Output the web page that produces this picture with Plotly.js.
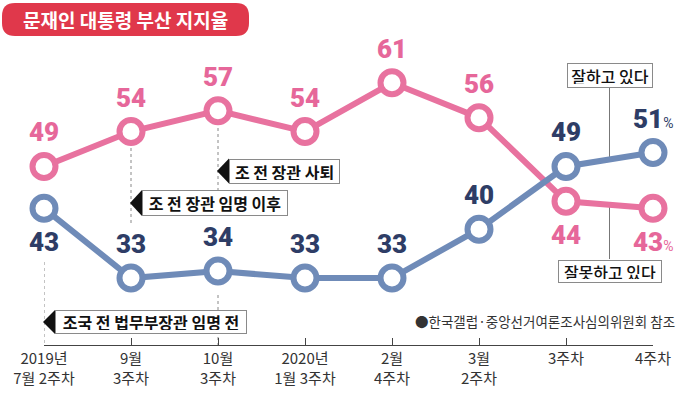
<!DOCTYPE html>
<html><head><meta charset="utf-8">
<script src="https://cdn.plot.ly/plotly-3.0.1.min.js"></script>
<style>html,body{margin:0;padding:0;background:#fff;}#chart{width:680px;height:394px;}</style>
</head><body><div id="chart"></div>
<script>
// ---- data ----
const periods = ['2019년<br>7월 2주차','9월<br>3주차','10월<br>3주차','2020년<br>1월 3주차','2월<br>4주차','3월<br>2주차','3주차','4주차'];
const approve = [43, 33, 34, 33, 33, 40, 49, 51];
const disapprove = [49, 54, 57, 54, 61, 56, 44, 43];
const approveName = '잘하고 있다';
const disapproveName = '잘못하고 있다';
const titleText = '문재인 대통령 부산 지지율';
const sourceText = '●한국갤럽·중앙선거여론조사심의위원회 참조';
const eventIndex = [2, 1, 0];
const eventText = ['조 전 장관 사퇴', '조 전 장관 임명 이후', '조국 전 법무부장관 임명 전'];

// ---- styling / layout constants ----
const PINK = '#e8729f', BLUE = '#6f8bb8', NAVY = '#2e3d66', PINKTXT = '#e6679a', RED = '#e0384b';
const FONT = "'Noto Sans CJK KR', 'Noto Sans', sans-serif";
const NUMFONT = "Roboto, 'DejaVu Sans', sans-serif";
const W = 680, H = 394, L = 44, R = 27, T = 20, B = 49;
const PW = W - L - R, PH = H - T - B;
const YR = [23.4, 70];
const px2x = px => (px - L) / PW;
const py2y = py => (H - B - py) / PH;
const idx2px = i => L + PW * i / (periods.length - 1);
const py2val = py => YR[0] + (H - B - py) / PH * (YR[1] - YR[0]);

// label side: -1 above, +1 below
const approveSide = [1, -1, -1, -1, -1, -1, -1, -1];
const disapproveSide = [-1, -1, -1, -1, -1, -1, 1, 1];
// event boxes [width, centerY, height]
const eventBox = [[111, 171, 25], [146, 203, 26], [192, 322, 24]];
// dotted guides [index, topPx, bottomPx]
const guides = [[0, 262, 345], [1, 148, 223], [2, 128, 190], [2, 295, 345]];

const xs = periods.map((_, i) => i);

const traces = [
  {x: xs, y: disapprove, type: 'scatter', mode: 'lines+markers', name: disapproveName,
   line: {color: PINK, width: 6}, cliponaxis: false,
   marker: {size: 23, color: '#fff', line: {color: PINK, width: 6}}},
  {x: xs, y: approve, type: 'scatter', mode: 'lines+markers', name: approveName,
   line: {color: BLUE, width: 6}, cliponaxis: false,
   marker: {size: 23, color: '#fff', line: {color: BLUE, width: 6}}}
];

const annotations = [];
const shapes = [];
const pct = '<span style="font-size:14px;font-weight:400">%</span>';
function valueLabels(vals, sides, color) {
  vals.forEach((v, i) => {
    annotations.push({x: i, y: v, xref: 'x', yref: 'y', showarrow: false,
      text: v + (i === vals.length - 1 ? pct : ''), yshift: -sides[i] * 34,
      font: {family: NUMFONT, size: 26, color: color, weight: 900},
      xanchor: 'center', yanchor: 'middle'});
  });
}
valueLabels(disapprove, disapproveSide, PINKTXT);
valueLabels(approve, approveSide, NAVY);

// dotted guides
guides.forEach(g => {
  shapes.push({type: 'line', xref: 'x', yref: 'paper', x0: g[0], x1: g[0],
    y0: py2y(g[1]), y1: py2y(g[2]), line: {color: '#888', width: 1, dash: 'dot'}, layer: 'below'});
});

// event boxes with triangles
eventIndex.forEach((ix, k) => {
  const [bw, cy, bh] = eventBox[k];
  const tip = idx2px(ix) - 1;
  const left = tip + 12;
  shapes.push({type: 'path', xref: 'paper', yref: 'paper', fillcolor: '#111', line: {width: 0},
    path: `M ${px2x(tip)} ${py2y(cy)} L ${px2x(left)} ${py2y(cy - bh / 2)} L ${px2x(left)} ${py2y(cy + bh / 2)} Z`});
  annotations.push({xref: 'paper', yref: 'paper', x: px2x(left), y: py2y(cy), xanchor: 'left', yanchor: 'middle',
    showarrow: false, text: eventText[k], width: bw - 8, height: bh - 8, borderpad: 3,
    bgcolor: '#fff', bordercolor: '#8a8a8a', borderwidth: 1, align: 'center',
    font: {family: FONT, size: 16, color: '#111', weight: 700}});
});

// series name boxes
const nameX = idx2px(periods.length - 1.5);
const last = periods.length - 1;
annotations.push({xref: 'paper', yref: 'paper', x: px2x(nameX), y: py2y(75.5), xanchor: 'center', yanchor: 'middle',
  showarrow: false, text: approveName, width: 78, height: 17, borderpad: 3, bgcolor: '#fff',
  bordercolor: '#8a8a8a', borderwidth: 1, font: {family: FONT, size: 16, color: '#111', weight: 500}});
annotations.push({xref: 'paper', yref: 'paper', x: px2x(nameX), y: py2y(271.5), xanchor: 'center', yanchor: 'middle',
  showarrow: false, text: disapproveName, width: 96, height: 15, borderpad: 3, bgcolor: '#fff',
  bordercolor: '#8a8a8a', borderwidth: 1, font: {family: FONT, size: 16, color: '#111', weight: 500}});
shapes.push({type: 'line', xref: 'x', yref: 'y', x0: last - 0.5, x1: last - 0.5,
  y0: (approve[last] + approve[last - 1]) / 2, y1: py2val(88), line: {color: '#777', width: 1}, layer: 'below'});
shapes.push({type: 'line', xref: 'x', yref: 'y', x0: last - 0.5, x1: last - 0.5,
  y0: (disapprove[last] + disapprove[last - 1]) / 2, y1: py2val(259), line: {color: '#777', width: 1}, layer: 'below'});

// title pill
(function () {
  const x0 = 2, x1 = 249, y0 = 3, y1 = 36, r = 13;
  const X = px2x, Y = py2y;
  const p = `M ${X(x0 + r)} ${Y(y0)} L ${X(x1 - r)} ${Y(y0)} Q ${X(x1)} ${Y(y0)} ${X(x1)} ${Y(y0 + r)} ` +
    `L ${X(x1)} ${Y(y1 - r)} Q ${X(x1)} ${Y(y1)} ${X(x1 - r)} ${Y(y1)} L ${X(x0 + r)} ${Y(y1)} ` +
    `Q ${X(x0)} ${Y(y1)} ${X(x0)} ${Y(y1 - r)} L ${X(x0)} ${Y(y0 + r)} Q ${X(x0)} ${Y(y0)} ${X(x0 + r)} ${Y(y0)} Z`;
  shapes.push({type: 'path', xref: 'paper', yref: 'paper', path: p, fillcolor: RED, line: {width: 0}});
  annotations.push({xref: 'paper', yref: 'paper', x: px2x((x0 + x1) / 2), y: py2y((y0 + y1) / 2),
    xanchor: 'center', yanchor: 'middle', showarrow: false, text: titleText,
    font: {family: FONT, size: 19, color: '#fff', weight: 700}});
})();

// source note
annotations.push({xref: 'paper', yref: 'paper', x: px2x(677), y: py2y(321), xanchor: 'right', yanchor: 'middle',
  showarrow: false, text: sourceText, font: {family: FONT, size: 13.5, color: '#333'}});

const layout = {
  width: W, height: H, margin: {l: L, r: R, t: T, b: B},
  paper_bgcolor: '#fff', plot_bgcolor: '#fff', showlegend: false,
  font: {family: FONT, color: '#333'},
  xaxis: {range: [0, periods.length - 1], tickvals: xs, ticktext: periods, showgrid: false, zeroline: false,
    showline: true, linecolor: '#444', linewidth: 1, ticks: 'inside', ticklen: 7, tickcolor: '#444',
    tickfont: {family: FONT, size: 15, color: '#333'}},
  yaxis: {range: YR, visible: false, showgrid: false, zeroline: false},
  shapes: shapes, annotations: annotations
};
Plotly.newPlot('chart', traces, layout, {staticPlot: true, displayModeBar: false});
</script></body></html>
